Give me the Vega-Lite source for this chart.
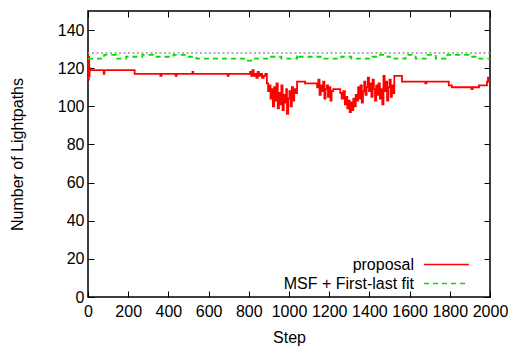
{
  "$schema": "https://vega.github.io/schema/vega-lite/v6.json",
  "width": 402,
  "height": 286,
  "autosize": {"type": "none"},
  "padding": {"left": 88, "top": 11, "right": 22, "bottom": 55},
  "background": "white",
  "config": {
    "font": "Liberation Sans",
    "view": {"stroke": "black", "strokeWidth": 1.5},
    "axis": {
      "domain": false,
      "grid": false,
      "tickSize": -6,
      "tickColor": "black",
      "tickWidth": 1,
      "labelFontSize": 16,
      "labelColor": "black",
      "labelFont": "Liberation Sans",
      "titleFont": "Liberation Sans",
      "titleFontSize": 16,
      "titleFontWeight": "normal",
      "titleColor": "black"
    },
    "legend": {
      "orient": "none",
      "legendX": 350,
      "legendY": 245,
      "title": null,
      "labelFontSize": 16,
      "labelFont": "Liberation Sans",
      "labelColor": "black",
      "labelAlign": "right",
      "labelOffset": -41,
      "symbolSize": 225,
      "symbolType": "M-3,0H3",
      "symbolStrokeWidth": 1.5,
      "rowPadding": 2
    }
  },
  "datasets": {
    "series": [
      {"step": 0, "value": 125, "series": "proposal"},
      {"step": 2, "value": 114, "series": "proposal"},
      {"step": 4, "value": 126, "series": "proposal"},
      {"step": 6, "value": 116, "series": "proposal"},
      {"step": 8, "value": 120, "series": "proposal"},
      {"step": 10, "value": 119, "series": "proposal"},
      {"step": 78, "value": 117, "series": "proposal"},
      {"step": 82, "value": 119, "series": "proposal"},
      {"step": 232, "value": 117, "series": "proposal"},
      {"step": 360, "value": 116, "series": "proposal"},
      {"step": 366, "value": 117, "series": "proposal"},
      {"step": 436, "value": 116, "series": "proposal"},
      {"step": 441, "value": 117, "series": "proposal"},
      {"step": 520, "value": 118, "series": "proposal"},
      {"step": 524, "value": 117, "series": "proposal"},
      {"step": 695, "value": 116, "series": "proposal"},
      {"step": 700, "value": 117, "series": "proposal"},
      {"step": 806, "value": 118, "series": "proposal"},
      {"step": 812, "value": 116, "series": "proposal"},
      {"step": 818, "value": 119, "series": "proposal"},
      {"step": 824, "value": 116, "series": "proposal"},
      {"step": 830, "value": 117, "series": "proposal"},
      {"step": 838, "value": 115, "series": "proposal"},
      {"step": 844, "value": 118, "series": "proposal"},
      {"step": 850, "value": 116, "series": "proposal"},
      {"step": 858, "value": 117, "series": "proposal"},
      {"step": 866, "value": 115, "series": "proposal"},
      {"step": 874, "value": 116, "series": "proposal"},
      {"step": 882, "value": 117, "series": "proposal"},
      {"step": 890, "value": 112, "series": "proposal"},
      {"step": 896, "value": 108, "series": "proposal"},
      {"step": 902, "value": 111, "series": "proposal"},
      {"step": 908, "value": 104, "series": "proposal"},
      {"step": 914, "value": 109, "series": "proposal"},
      {"step": 920, "value": 100, "series": "proposal"},
      {"step": 926, "value": 110, "series": "proposal"},
      {"step": 932, "value": 103, "series": "proposal"},
      {"step": 938, "value": 112, "series": "proposal"},
      {"step": 944, "value": 99, "series": "proposal"},
      {"step": 950, "value": 107, "series": "proposal"},
      {"step": 956, "value": 101, "series": "proposal"},
      {"step": 962, "value": 111, "series": "proposal"},
      {"step": 968, "value": 98, "series": "proposal"},
      {"step": 974, "value": 106, "series": "proposal"},
      {"step": 980, "value": 102, "series": "proposal"},
      {"step": 986, "value": 109, "series": "proposal"},
      {"step": 990, "value": 96, "series": "proposal"},
      {"step": 996, "value": 104, "series": "proposal"},
      {"step": 1002, "value": 108, "series": "proposal"},
      {"step": 1008, "value": 100, "series": "proposal"},
      {"step": 1014, "value": 110, "series": "proposal"},
      {"step": 1020, "value": 103, "series": "proposal"},
      {"step": 1026, "value": 109, "series": "proposal"},
      {"step": 1032, "value": 107, "series": "proposal"},
      {"step": 1040, "value": 113, "series": "proposal"},
      {"step": 1080, "value": 112, "series": "proposal"},
      {"step": 1140, "value": 110, "series": "proposal"},
      {"step": 1146, "value": 114, "series": "proposal"},
      {"step": 1152, "value": 106, "series": "proposal"},
      {"step": 1158, "value": 111, "series": "proposal"},
      {"step": 1164, "value": 108, "series": "proposal"},
      {"step": 1170, "value": 113, "series": "proposal"},
      {"step": 1176, "value": 104, "series": "proposal"},
      {"step": 1182, "value": 109, "series": "proposal"},
      {"step": 1188, "value": 111, "series": "proposal"},
      {"step": 1194, "value": 105, "series": "proposal"},
      {"step": 1200, "value": 110, "series": "proposal"},
      {"step": 1206, "value": 103, "series": "proposal"},
      {"step": 1212, "value": 108, "series": "proposal"},
      {"step": 1220, "value": 109, "series": "proposal"},
      {"step": 1255, "value": 107, "series": "proposal"},
      {"step": 1262, "value": 104, "series": "proposal"},
      {"step": 1270, "value": 108, "series": "proposal"},
      {"step": 1278, "value": 101, "series": "proposal"},
      {"step": 1284, "value": 105, "series": "proposal"},
      {"step": 1290, "value": 99, "series": "proposal"},
      {"step": 1296, "value": 103, "series": "proposal"},
      {"step": 1302, "value": 97, "series": "proposal"},
      {"step": 1308, "value": 102, "series": "proposal"},
      {"step": 1314, "value": 98, "series": "proposal"},
      {"step": 1320, "value": 104, "series": "proposal"},
      {"step": 1326, "value": 100, "series": "proposal"},
      {"step": 1332, "value": 106, "series": "proposal"},
      {"step": 1338, "value": 103, "series": "proposal"},
      {"step": 1344, "value": 110, "series": "proposal"},
      {"step": 1350, "value": 104, "series": "proposal"},
      {"step": 1356, "value": 111, "series": "proposal"},
      {"step": 1362, "value": 102, "series": "proposal"},
      {"step": 1368, "value": 108, "series": "proposal"},
      {"step": 1374, "value": 113, "series": "proposal"},
      {"step": 1380, "value": 106, "series": "proposal"},
      {"step": 1386, "value": 110, "series": "proposal"},
      {"step": 1392, "value": 115, "series": "proposal"},
      {"step": 1398, "value": 108, "series": "proposal"},
      {"step": 1404, "value": 112, "series": "proposal"},
      {"step": 1410, "value": 105, "series": "proposal"},
      {"step": 1416, "value": 114, "series": "proposal"},
      {"step": 1422, "value": 109, "series": "proposal"},
      {"step": 1428, "value": 103, "series": "proposal"},
      {"step": 1434, "value": 111, "series": "proposal"},
      {"step": 1440, "value": 106, "series": "proposal"},
      {"step": 1446, "value": 112, "series": "proposal"},
      {"step": 1452, "value": 104, "series": "proposal"},
      {"step": 1458, "value": 109, "series": "proposal"},
      {"step": 1464, "value": 101, "series": "proposal"},
      {"step": 1470, "value": 116, "series": "proposal"},
      {"step": 1476, "value": 108, "series": "proposal"},
      {"step": 1482, "value": 113, "series": "proposal"},
      {"step": 1488, "value": 103, "series": "proposal"},
      {"step": 1494, "value": 110, "series": "proposal"},
      {"step": 1500, "value": 114, "series": "proposal"},
      {"step": 1506, "value": 105, "series": "proposal"},
      {"step": 1512, "value": 111, "series": "proposal"},
      {"step": 1518, "value": 107, "series": "proposal"},
      {"step": 1524, "value": 116, "series": "proposal"},
      {"step": 1562, "value": 113, "series": "proposal"},
      {"step": 1678, "value": 112, "series": "proposal"},
      {"step": 1684, "value": 113, "series": "proposal"},
      {"step": 1795, "value": 111, "series": "proposal"},
      {"step": 1810, "value": 110, "series": "proposal"},
      {"step": 1908, "value": 109, "series": "proposal"},
      {"step": 1914, "value": 110, "series": "proposal"},
      {"step": 1945, "value": 111, "series": "proposal"},
      {"step": 1985, "value": 113, "series": "proposal"},
      {"step": 1990, "value": 115, "series": "proposal"},
      {"step": 1995, "value": 113, "series": "proposal"},
      {"step": 2000, "value": 113, "series": "proposal"},
      {"step": 0, "value": 125, "series": "MSF + First-last fit"},
      {"step": 80, "value": 127, "series": "MSF + First-last fit"},
      {"step": 140, "value": 125, "series": "MSF + First-last fit"},
      {"step": 190, "value": 126, "series": "MSF + First-last fit"},
      {"step": 270, "value": 127, "series": "MSF + First-last fit"},
      {"step": 325, "value": 126, "series": "MSF + First-last fit"},
      {"step": 425, "value": 127, "series": "MSF + First-last fit"},
      {"step": 490, "value": 126, "series": "MSF + First-last fit"},
      {"step": 540, "value": 125, "series": "MSF + First-last fit"},
      {"step": 790, "value": 124, "series": "MSF + First-last fit"},
      {"step": 825, "value": 125, "series": "MSF + First-last fit"},
      {"step": 910, "value": 126, "series": "MSF + First-last fit"},
      {"step": 962, "value": 125, "series": "MSF + First-last fit"},
      {"step": 1040, "value": 127, "series": "MSF + First-last fit"},
      {"step": 1050, "value": 126, "series": "MSF + First-last fit"},
      {"step": 1175, "value": 125, "series": "MSF + First-last fit"},
      {"step": 1260, "value": 126, "series": "MSF + First-last fit"},
      {"step": 1310, "value": 125, "series": "MSF + First-last fit"},
      {"step": 1415, "value": 126, "series": "MSF + First-last fit"},
      {"step": 1448, "value": 127, "series": "MSF + First-last fit"},
      {"step": 1490, "value": 126, "series": "MSF + First-last fit"},
      {"step": 1525, "value": 125, "series": "MSF + First-last fit"},
      {"step": 1580, "value": 127, "series": "MSF + First-last fit"},
      {"step": 1630, "value": 125, "series": "MSF + First-last fit"},
      {"step": 1680, "value": 127, "series": "MSF + First-last fit"},
      {"step": 1730, "value": 125, "series": "MSF + First-last fit"},
      {"step": 1780, "value": 127, "series": "MSF + First-last fit"},
      {"step": 1895, "value": 126, "series": "MSF + First-last fit"},
      {"step": 1935, "value": 125, "series": "MSF + First-last fit"},
      {"step": 2000, "value": 125, "series": "MSF + First-last fit"}
    ],
    "capacity": [{"value": 128}]
  },
  "layer": [
    {
      "data": {"name": "capacity"},
      "mark": {"type": "rule", "color": "#999999", "strokeWidth": 1.5, "strokeDash": [2, 2.5]},
      "encoding": {
        "y": {"field": "value", "type": "quantitative", "scale": {"domain": [0, 150]}, "axis": {"orient": "right", "labels": false, "title": null, "values": [0, 20, 40, 60, 80, 100, 120, 140]}}
      }
    },
    {
      "data": {"name": "series"},
      "mark": {"type": "line", "interpolate": "step-after", "strokeWidth": 1.8},
      "encoding": {
        "x": {"field": "step", "type": "quantitative", "scale": {"domain": [0, 2000], "nice": false}, "axis": {"orient": "bottom", "title": "Step", "format": "d", "values": [0, 200, 400, 600, 800, 1000, 1200, 1400, 1600, 1800, 2000], "labelPadding": 12, "titlePadding": 10, "labelFlush": false}},
        "y": {"field": "value", "type": "quantitative", "scale": {"domain": [0, 150]}, "axis": {"orient": "left", "title": "Number of Lightpaths", "values": [0, 20, 40, 60, 80, 100, 120, 140], "labelPadding": 10, "titlePadding": 32}},
        "color": {"field": "series", "type": "nominal", "sort": ["proposal", "MSF + First-last fit"], "scale": {"domain": ["proposal", "MSF + First-last fit"], "range": ["#ff0000", "#00e000"]}, "legend": {"symbolType": "M-3,0H3"}},
        "strokeDash": {"field": "series", "type": "nominal", "sort": ["proposal", "MSF + First-last fit"], "scale": {"domain": ["proposal", "MSF + First-last fit"], "range": [[1, 0], [5, 4]]}, "legend": {"symbolType": "M-3,0H3"}},
        "order": {"field": "step", "type": "quantitative"}
      }
    },
    {
      "data": {"name": "series"},
      "mark": {"type": "point", "opacity": 0},
      "encoding": {
        "x": {"field": "step", "type": "quantitative", "scale": {"domain": [0, 2000], "nice": false}, "axis": {"orient": "top", "labels": false, "title": null, "values": [0, 200, 400, 600, 800, 1000, 1200, 1400, 1600, 1800, 2000]}}
      }
    }
  ],
  "resolve": {"axis": {"x": "independent", "y": "independent"}}
}
